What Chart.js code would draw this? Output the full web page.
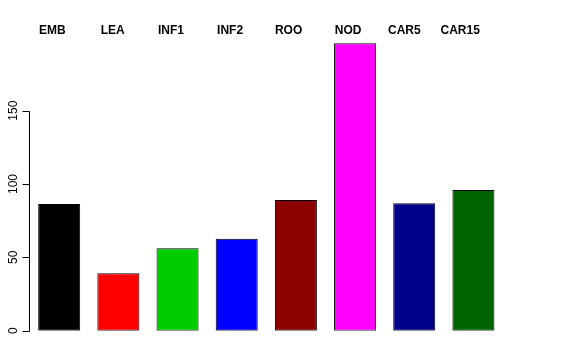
<!DOCTYPE html>
<html>
<head>
<meta charset="utf-8">
<script src="https://cdn.jsdelivr.net/npm/chart.js@4/dist/chart.umd.min.js"></script>
<style>
  html, body { margin: 0; padding: 0; background: #ffffff; }
  #wrap { width: 576px; height: 360px; position: relative; }
</style>
</head>
<body>
<div id="wrap"><canvas id="c" width="576" height="360"></canvas></div>
<script>
const categories = ["EMB", "LEA", "INF1", "INF2", "ROO", "NOD", "CAR5", "CAR15"];
const values = [86.4, 39.1, 56.2, 62.7, 89.1, 196.0, 86.9, 95.9];
const barColors = ["#000000", "#FF0000", "#00CD00", "#0000FF", "#8B0000", "#FF00FF", "#00008B", "#006400"];
const yTicks = [0, 50, 100, 150];

const rAxisPlugin = {
  id: "rAxis",
  afterDraw(chart) {
    const ctx = chart.ctx;
    const y = chart.scales.y;
    const x = chart.scales.x;
    const area = chart.chartArea;
    const ax = Math.round(area.left) - 0.5;
    ctx.save();
    ctx.strokeStyle = "#000000";
    ctx.lineWidth = 1;
    ctx.beginPath();
    const y0 = Math.round(y.getPixelForValue(yTicks[0])) + 0.5;
    const y1 = Math.round(y.getPixelForValue(yTicks[yTicks.length - 1])) + 0.5;
    ctx.moveTo(ax, y0);
    ctx.lineTo(ax, y1);
    yTicks.forEach(t => {
      const py = Math.round(y.getPixelForValue(t)) + 0.5;
      ctx.moveTo(ax, py);
      ctx.lineTo(ax - 7, py);
    });
    ctx.stroke();
    ctx.fillStyle = "#000000";
    ctx.font = "12px 'Liberation Sans', Arial, sans-serif";
    ctx.textAlign = "center";
    ctx.textBaseline = "alphabetic";
    yTicks.forEach(t => {
      const py = y.getPixelForValue(t);
      ctx.save();
      ctx.translate(ax - 13, py);
      ctx.rotate(-Math.PI / 2);
      ctx.fillText(String(t), 0, 0);
      ctx.restore();
    });
    // category labels along the top
    ctx.font = "bold 12px 'Liberation Sans', Arial, sans-serif";
    ctx.textAlign = "right";
    categories.forEach((c, i) => {
      ctx.fillText(c, x.getPixelForValue(i) + 6.4, 34);
    });
    ctx.restore();
  }
};

new Chart(document.getElementById("c"), {
  type: "bar",
  data: {
    labels: categories,
    datasets: [{
      data: values,
      backgroundColor: barColors,
      borderColor: "#000000",
      borderWidth: 1,
      borderSkipped: false,
      categoryPercentage: 1.0,
      barPercentage: 0.71
    }]
  },
  options: {
    responsive: false,
    animation: false,
    devicePixelRatio: 1,
    layout: { padding: { left: 29.6, right: 73, top: 37.3, bottom: 29.3 } },
    plugins: { legend: { display: false }, tooltip: { enabled: false } },
    scales: {
      x: { display: false, offset: true },
      y: { display: false, min: 0, max: 200 }
    }
  },
  plugins: [rAxisPlugin]
});
</script>
</body>
</html>
